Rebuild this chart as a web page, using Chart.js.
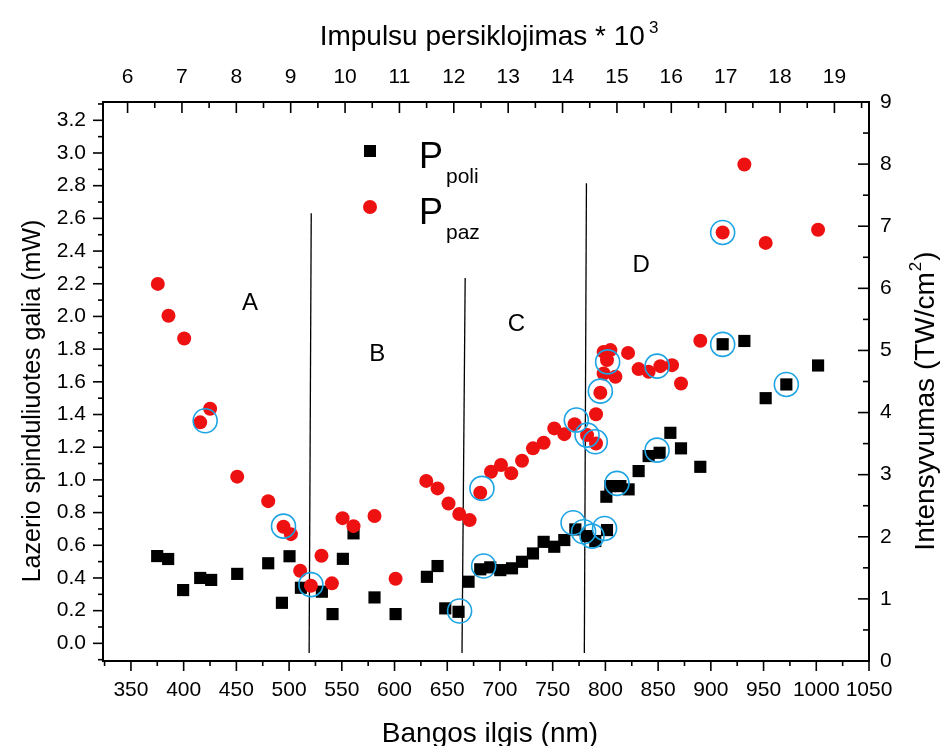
<!DOCTYPE html>
<html><head><meta charset="utf-8">
<script src="https://cdn.jsdelivr.net/npm/chart.js@4.4.0/dist/chart.umd.min.js"></script>
<style>html,body{margin:0;padding:0;background:#fff;}#wrap{width:942px;height:746px;}</style>
</head><body><div id="wrap"><canvas id="c" width="942" height="746"></canvas></div>
<script>
// ---- data ----
const poliNm = [374.9, 385.3, 399.5, 415.7, 426.1, 450.8, 480.2, 493.2, 500.4, 511.2, 531.1, 541.2, 551.0, 561.1, 581.0, 601.0, 630.7, 640.8, 648.1, 660.7, 670.2, 681.3, 690.8, 700.3, 711.4, 720.9, 731.3, 741.4, 751.5, 761.0, 771.5, 782.6, 790.4, 801.5, 800.9, 804.7, 814.2, 822.0, 831.5, 841.0, 851.4, 861.6, 871.7, 890.0, 911.2, 931.8, 952.0, 971.6, 1001.7];
const poliMw = [0.534, 0.516, 0.326, 0.400, 0.388, 0.425, 0.490, 0.248, 0.533, 0.340, 0.316, 0.179, 0.517, 0.673, 0.281, 0.179, 0.407, 0.473, 0.214, 0.193, 0.377, 0.453, 0.465, 0.448, 0.459, 0.499, 0.550, 0.621, 0.591, 0.632, 0.697, 0.656, 0.626, 0.693, 0.897, 0.962, 0.962, 0.942, 1.054, 1.146, 1.166, 1.288, 1.193, 1.080, 1.830, 1.850, 1.500, 1.584, 1.700];
const pazNm = [375.5, 385.6, 400.5, 415.7, 425.1, 450.8, 480.2, 494.7, 501.7, 510.5, 520.7, 530.7, 540.6, 550.7, 561.1, 581.0, 601.0, 630.1, 640.8, 651.2, 661.4, 671.2, 681.3, 691.5, 701.0, 710.7, 720.9, 731.3, 741.4, 751.5, 761.0, 770.8, 782.6, 791.1, 791.1, 795.2, 798.3, 804.7, 801.5, 798.3, 809.5, 821.5, 831.5, 841.0, 852.1, 863.2, 871.7, 890.0, 911.2, 931.8, 952.0, 1001.7];
const pazMw = [2.199, 2.004, 1.865, 1.352, 1.435, 1.020, 0.870, 0.713, 0.668, 0.444, 0.352, 0.536, 0.367, 0.766, 0.717, 0.779, 0.395, 0.994, 0.948, 0.856, 0.791, 0.754, 0.921, 1.050, 1.091, 1.040, 1.117, 1.193, 1.227, 1.315, 1.280, 1.341, 1.274, 1.223, 1.402, 1.533, 1.783, 1.794, 1.733, 1.651, 1.631, 1.777, 1.678, 1.661, 1.696, 1.702, 1.590, 1.851, 2.514, 2.930, 2.450, 2.530];
const ringNm = [420.4, 494.7, 520.7, 661.7, 682.9, 684.5, 772.4, 782.6, 790.4, 795.2, 802.1, 769.3, 779.3, 787.3, 799.2, 811.0, 849.0, 849.0, 911.2, 911.2, 971.6];
const ringMw = [1.362, 0.717, 0.359, 0.198, 0.948, 0.473, 1.366, 1.274, 1.233, 1.543, 1.722, 0.738, 0.683, 0.656, 0.703, 0.979, 1.696, 1.182, 2.514, 1.829, 1.584];
const dividerNm = [[521, 519], [667, 664], [782, 780]];
const dividerMw = [[2.632, -0.059], [2.235, -0.059], [2.815, -0.059]];
const regionNames = ['A', 'B', 'C', 'D'];
const regionNm = [463, 583.6, 715.5, 834];
const regionMw = [2.08, 1.77, 1.95, 2.31];
// tick labels
const xTicks = [350,400,450,500,550,600,650,700,750,800,850,900,950,1000,1050];
const x2Ticks = [6,7,8,9,10,11,12,13,14,15,16,17,18,19];
const yTicks = [0.0,0.2,0.4,0.6,0.8,1.0,1.2,1.4,1.6,1.8,2.0,2.2,2.4,2.6,2.8,3.0,3.2];
const y2Ticks = [0,1,2,3,4,5,6,7,8,9];

const FONT = "'Liberation Sans', Arial, sans-serif";
Chart.defaults.font.family = FONT;
Chart.defaults.color = '#000';

const pts = (xs, ys) => xs.map((x, i) => ({x, y: ys[i]}));

const datasets = [
  {label: 'rings', data: pts(ringNm, ringMw), pointStyle: 'circle', pointRadius: 12, pointBackgroundColor: 'rgba(0,0,0,0)', pointBorderColor: '#1ca4e4', pointBorderWidth: 1.6, showLine: false, order: 0},
  {label: 'Ppaz', data: pts(pazNm, pazMw), pointStyle: 'circle', pointRadius: 7, pointBackgroundColor: '#ee1111', pointBorderWidth: 0, pointBorderColor: '#ee1111', showLine: false, order: 1},
  {label: 'Ppoli', data: pts(poliNm, poliMw), pointStyle: 'rect', pointRadius: 8.6, pointBackgroundColor: '#000', pointBorderWidth: 0, showLine: false, order: 2},
];
dividerNm.forEach((xs, i) => datasets.push({label: 'div' + i, data: pts(xs, dividerMw[i]), showLine: true, borderColor: '#000', borderWidth: 1.3, pointRadius: 0, order: 3}));

const fixTicks = (vals) => (s) => { s.ticks = vals.map(v => ({value: v})); };
const tickFont = {size: 21, family: FONT};

const decor = {
  id: 'decor',
  afterDraw(chart) {
    const {ctx, chartArea: a, scales} = chart;
    const X = scales.x, X2 = scales.x2, Y = scales.y, Y2 = scales.y2;
    ctx.save();
    ctx.strokeStyle = '#000';
    const seg = (x1, y1, x2, y2) => { ctx.beginPath(); ctx.moveTo(x1, y1); ctx.lineTo(x2, y2); ctx.stroke(); };
    ctx.lineWidth = 1.6;
    for (let v = 325; v <= 1050; v += 25) { const p = X.getPixelForValue(v); seg(p, a.bottom, p, a.bottom + (v % 50 === 0 ? 10 : 5)); }
    for (let v = 6; v <= 19.6; v += 0.5) { const p = X2.getPixelForValue(v); seg(p, a.top, p, a.top + (Number.isInteger(v) ? 11 : 6)); }
    for (let k = -1; k <= 33; k++) { const v = k / 10; const p = Y.getPixelForValue(v); if (p < a.top - 0.5 || p > a.bottom + 0.5) continue; seg(a.left, p, a.left - (k % 2 === 0 ? 10 : 5), p); }
    for (let k = 0; k <= 18; k++) { const p = Y2.getPixelForValue(k / 2); seg(a.right, p, a.right - (k % 2 === 0 ? 11 : 6), p); }
    ctx.lineWidth = 2;
    ctx.strokeRect(a.left, a.top, a.right - a.left, a.bottom - a.top);

    ctx.fillStyle = '#000';
    ctx.font = '24px ' + FONT; ctx.textAlign = 'center'; ctx.textBaseline = 'middle';
    regionNames.forEach((t, i) => ctx.fillText(t, X.getPixelForValue(regionNm[i]), Y.getPixelForValue(regionMw[i])));

    ctx.textBaseline = 'alphabetic';
    ctx.font = '28px ' + FONT; ctx.textAlign = 'center';
    ctx.fillText('Bangos ilgis (nm)', 490, 742);
    const t1 = 'Impulsu persiklojimas * 10';
    const w1 = ctx.measureText(t1).width;
    ctx.font = '17px ' + FONT; const ws = ctx.measureText('3').width;
    const tx = 489 - (w1 + 4 + ws) / 2;
    ctx.font = '28px ' + FONT; ctx.textAlign = 'left'; ctx.fillText(t1, tx, 45);
    ctx.font = '17px ' + FONT; ctx.fillText('3', tx + w1 + 4, 33);
    ctx.save(); ctx.translate(40, 401); ctx.rotate(-Math.PI / 2);
    ctx.font = '25px ' + FONT; ctx.textAlign = 'center'; ctx.fillText('Lazerio spinduliuotes galia (mW)', 0, 0);
    ctx.restore();
    ctx.save(); ctx.translate(934, 401); ctx.rotate(-Math.PI / 2);
    ctx.font = '28px ' + FONT;
    const r1 = 'Intensyvumas (TW/cm', r3 = ')';
    const wr1 = ctx.measureText(r1).width, wr3 = ctx.measureText(r3).width;
    ctx.font = '17px ' + FONT; const wr2 = ctx.measureText('2').width;
    const rx = -(wr1 + wr2 + 2 + wr3) / 2;
    ctx.textAlign = 'left';
    ctx.font = '28px ' + FONT; ctx.fillText(r1, rx, 0);
    ctx.font = '17px ' + FONT; ctx.fillText('2', rx + wr1 + 1, -13);
    ctx.font = '28px ' + FONT; ctx.fillText(r3, rx + wr1 + wr2 + 2, 0);
    ctx.restore();

    ctx.fillStyle = '#000'; ctx.fillRect(364, 145, 12, 12);
    ctx.fillStyle = '#ee1111'; ctx.beginPath(); ctx.arc(370, 207, 7, 0, Math.PI * 2); ctx.fill();
    ctx.fillStyle = '#000'; ctx.textAlign = 'left';
    ctx.font = '36px ' + FONT; ctx.fillText('P', 419, 168); ctx.fillText('P', 419, 224);
    ctx.font = '21px ' + FONT; ctx.fillText('poli', 446, 183); ctx.fillText('paz', 446, 239);
    ctx.restore();
  }
};

new Chart(document.getElementById('c'), {
  type: 'scatter',
  data: {datasets},
  options: {
    responsive: false, animation: false, devicePixelRatio: 1,
    layout: {padding: 0},
    plugins: {legend: {display: false}, tooltip: {enabled: false}},
    scales: {
      x: {type: 'linear', position: 'bottom', min: 323.5, max: 1050,
          afterBuildTicks: fixTicks(xTicks), afterFit: s => { s.height = 85; },
          ticks: {font: tickFont, color: '#000', padding: 17, maxRotation: 0, autoSkip: false, callback: v => String(v)},
          grid: {display: false, drawTicks: false}, border: {display: false}},
      x2: {type: 'linear', position: 'top', min: 5.548, max: 19.636,
          afterBuildTicks: fixTicks(x2Ticks), afterFit: s => { s.height = 102; },
          ticks: {font: tickFont, color: '#000', padding: 12, maxRotation: 0, autoSkip: false, callback: v => String(v)},
          grid: {display: false, drawTicks: false}, border: {display: false}},
      y: {type: 'linear', position: 'left', min: -0.108, max: 3.312,
          afterBuildTicks: fixTicks(yTicks), afterFit: s => { s.width = 103; },
          ticks: {font: tickFont, color: '#000', padding: 17, autoSkip: false, callback: v => v.toFixed(1)},
          grid: {display: false, drawTicks: false}, border: {display: false}},
      y2: {type: 'linear', position: 'right', min: 0, max: 9,
          afterBuildTicks: fixTicks(y2Ticks), afterFit: s => { s.width = 73; },
          ticks: {font: tickFont, color: '#000', padding: 11, autoSkip: false, callback: v => String(v)},
          grid: {display: false, drawTicks: false}, border: {display: false}}
    }
  },
  plugins: [decor]
});
</script></body></html>
